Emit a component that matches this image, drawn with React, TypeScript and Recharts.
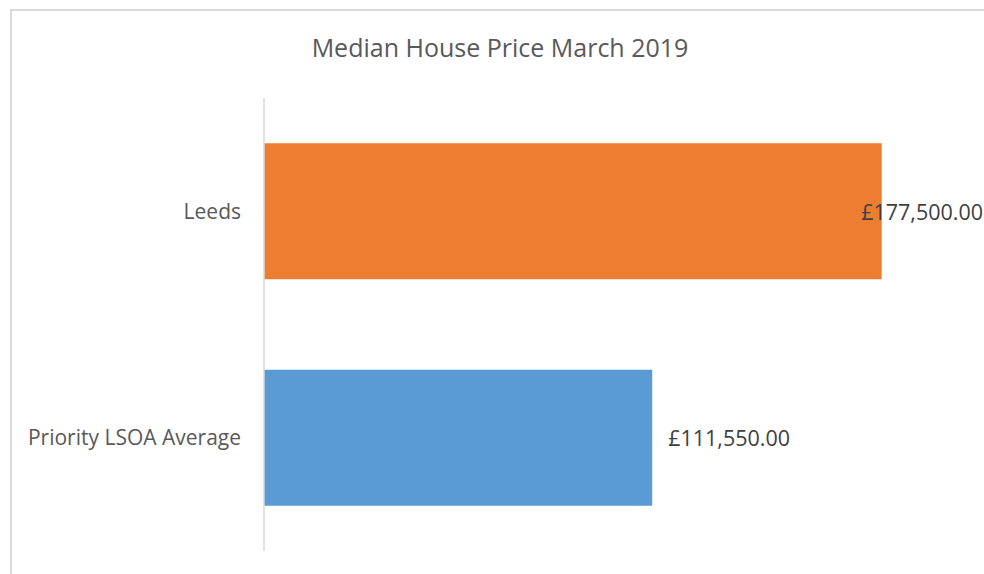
import { BarChart, Bar, XAxis, YAxis, Cell, LabelList } from "recharts";

const areas = ["Leeds", "Priority LSOA Average"];
const medianPrice = [177500, 111550];
const barColors = ["#ED7D31", "#5B9BD5"];
const axisMax = 200000;

const data = areas.map((area, i) => ({ area, price: medianPrice[i] }));

const fmt = (v: number) =>
  "£" + v.toLocaleString("en-GB", { minimumFractionDigits: 2, maximumFractionDigits: 2 });

const FONT = "'Open Sans', Lato, sans-serif";
const RIGHT_LIMIT = 983;

const ValueLabel = (props: any) => {
  const { x, y, width, height, value } = props;
  const end = x + width + 16;
  const approxW = 121;
  const clamped = end + approxW > RIGHT_LIMIT;
  return (
    <text
      x={clamped ? RIGHT_LIMIT : end}
      y={y + height / 2}
      textAnchor={clamped ? "end" : "start"}
      dominantBaseline="central"
      fill="#404040"
      fontSize={21.5}
      fontFamily={FONT}
    >
      {fmt(value)}
    </text>
  );
};

export default function App() {
  return (
    <div
      style={{
        position: "absolute",
        left: 0,
        top: 0,
        width: 984,
        height: 574,
        overflow: "hidden",
        background: "#fff",
      }}
    >
      <div
        style={{
          position: "absolute",
          left: 10,
          top: 9,
          width: 990,
          height: 620,
          boxSizing: "border-box",
          border: "2px solid #d9d9d9",
        }}
      />
      <div
        style={{
          position: "absolute",
          left: 0,
          top: 30,
          width: 1000,
          textAlign: "center",
          fontFamily: FONT,
          fontSize: 25,
          color: "#595959",
          lineHeight: "34px",
        }}
      >
        Median House Price March 2019
      </div>
      <div style={{ position: "absolute", left: 0, top: 0 }}>
        <BarChart
          width={984}
          height={574}
          data={data}
          layout="vertical"
          margin={{ top: 98, right: 24, bottom: 23, left: 10 }}
          barCategoryGap="20%"
        >
          <XAxis type="number" domain={[0, axisMax]} hide />
          <YAxis
            type="category"
            dataKey="area"
            width={254}
            axisLine={{ stroke: "#d9d9d9", strokeWidth: 1.5 }}
            tickLine={false}
            tickSize={0}
            tickMargin={23}
            tick={{ fontSize: 21, fill: "#595959", fontFamily: FONT }}
          />
          <Bar dataKey="price" isAnimationActive={false}>
            {data.map((d, i) => (
              <Cell key={d.area} fill={barColors[i]} />
            ))}
            <LabelList dataKey="price" content={<ValueLabel />} />
          </Bar>
        </BarChart>
      </div>
    </div>
  );
}
